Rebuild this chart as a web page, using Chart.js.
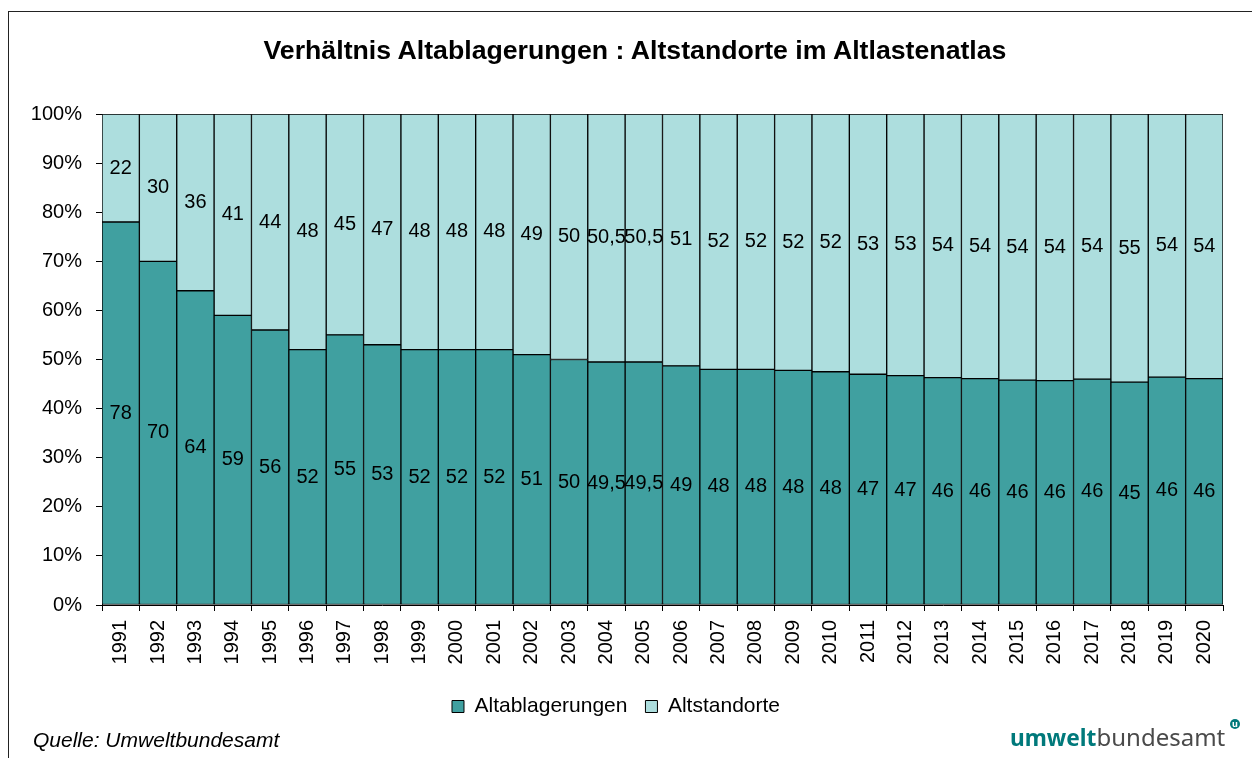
<!DOCTYPE html>
<html lang="de">
<head>
<meta charset="utf-8">
<title>Verhältnis Altablagerungen : Altstandorte im Altlastenatlas</title>
<script src="https://cdn.jsdelivr.net/npm/chart.js@4.4.1/dist/chart.umd.min.js"></script>
<style>
    html, body { margin: 0; padding: 0; background: #fff; }
    #wrap { position: relative; width: 1252px; height: 758px; overflow: hidden; }
    #frame { position: absolute; left: 8px; top: 11px; width: 1400px; height: 900px;
             border-left: 1px solid #222; border-top: 1px solid #222; }
    #chart { position: absolute; left: 0; top: 0; }
    #title { position: absolute; left: 0; top: 35px; width: 1270px; text-align: center; line-height: 1;
             font: bold 26.7px Arial, "Liberation Sans", sans-serif; color: #000; white-space: nowrap; }
    #source { position: absolute; left: 33px; top: 728px; line-height: 1;
              font: italic 21px Arial, "Liberation Sans", sans-serif; color: #000; }
    #logo { position: absolute; left: 1010px; top: 725px; line-height: 1;
            font-family: "Noto Sans", sans-serif; font-size: 24px; color: #4a4a4a; white-space: nowrap; }
    #logo b { color: #00797b; font-weight: 700; font-size: 22.7px; }
    #logo .badge { position: absolute; left: 220px; top: -6px; width: 10px; height: 10px; border-radius: 50%;
                   background: #00797b; color: #fff; font-size: 9px; line-height: 9px; text-align: center;
                   font-weight: 700; }
</style>
</head>
<body>
<div id="wrap">
    <div id="frame"></div>
    <canvas id="chart" width="1252" height="758"></canvas>
    <div id="title">Verhältnis Altablagerungen : Altstandorte im Altlastenatlas</div>
    <div id="source">Quelle: Umweltbundesamt</div>
    <div id="logo"><b>umwelt</b>bundesamt<span class="badge">u</span></div>
</div>
<script>
    const years = ["1991", "1992", "1993", "1994", "1995", "1996", "1997", "1998", "1999", "2000",
        "2001", "2002", "2003", "2004", "2005", "2006", "2007", "2008", "2009", "2010",
        "2011", "2012", "2013", "2014", "2015", "2016", "2017", "2018", "2019", "2020"];

    // bar heights in percent
    const altablagerungen = [78, 70, 64, 59, 56, 52, 55, 53, 52, 52,
        52, 51, 50, 49.5, 49.5, 48.7, 48, 48, 47.8, 47.5,
        47, 46.7, 46.3, 46.1, 45.8, 45.7, 46, 45.4, 46.4, 46.1];
    const altstandorte = [22, 30, 36, 41, 44, 48, 45, 47, 48, 48,
        48, 49, 50, 50.5, 50.5, 51.3, 52, 52, 52.2, 52.5,
        53, 53.3, 53.7, 53.9, 54.2, 54.3, 54, 54.6, 53.6, 53.9];

    // printed labels inside the bars
    const labelsAltablagerungen = ["78", "70", "64", "59", "56", "52", "55", "53", "52", "52",
        "52", "51", "50", "49,5", "49,5", "49", "48", "48", "48", "48",
        "47", "47", "46", "46", "46", "46", "46", "45", "46", "46"];
    const labelsAltstandorte = ["22", "30", "36", "41", "44", "48", "45", "47", "48", "48",
        "48", "49", "50", "50,5", "50,5", "51", "52", "52", "52", "52",
        "53", "53", "54", "54", "54", "54", "54", "55", "54", "54"];

    const yTicks = [0, 10, 20, 30, 40, 50, 60, 70, 80, 90, 100];

    const FONT = 'Arial, "Liberation Sans", sans-serif';
    Chart.defaults.font.family = FONT;
    Chart.defaults.color = "#000";

    const segmentLabels = {
        id: "segmentLabels",
        afterDatasetsDraw(chart) {
            const ctx = chart.ctx;
            const texts = [labelsAltablagerungen, labelsAltstandorte];
            ctx.save();
            ctx.font = "20px " + FONT;
            ctx.fillStyle = "#000";
            ctx.textAlign = "center";
            ctx.textBaseline = "middle";
            chart.data.datasets.forEach((ds, i) => {
                const meta = chart.getDatasetMeta(i);
                meta.data.forEach((bar, j) => {
                    ctx.fillText(texts[i][j], bar.x, (bar.y + bar.base) / 2);
                });
            });
            ctx.restore();
        }
    };

    const ctx = document.getElementById("chart").getContext("2d");
    new Chart(ctx, {
        type: "bar",
        data: {
            labels: years,
            datasets: [{
                label: "Altablagerungen",
                data: altablagerungen,
                backgroundColor: "#40a0a0",
                borderColor: "#000",
                borderWidth: 1,
                borderSkipped: false
            }, {
                label: "Altstandorte",
                data: altstandorte,
                backgroundColor: "#addede",
                borderColor: "#000",
                borderWidth: 1,
                borderSkipped: false
            }]
        },
        options: {
            responsive: false,
            animation: false,
            categoryPercentage: 1,
            barPercentage: 1,
            layout: {padding: {left: 9, right: 29, top: 114, bottom: 31}},
            scales: {
                x: {
                    stacked: true,
                    grid: {display: true, drawOnChartArea: false, drawTicks: true, tickLength: 6, color: "#000", offset: true},
                    border: {display: true, color: "#000", width: 1},
                    ticks: {color: "#000", font: {size: 20}, maxRotation: 90, minRotation: 90, autoSkip: false, padding: 9},
                    afterFit: function (scale) { scale.height = 73; }
                },
                y: {
                    stacked: true,
                    min: 0,
                    max: 100,
                    afterBuildTicks: function (scale) { scale.ticks = yTicks.map(v => ({value: v})); },
                    ticks: {color: "#000", font: {size: 20}, padding: 14, callback: v => v + "%"},
                    grid: {display: true, drawOnChartArea: false, drawTicks: true, tickLength: 6, color: "#000"},
                    border: {display: true, color: "#000", width: 1},
                    afterFit: function (scale) { scale.width = 93; }
                }
            },
            plugins: {
                title: {display: false},
                legend: {
                    position: "bottom",
                    labels: {color: "#000", font: {size: 21}, boxWidth: 12, boxHeight: 12, padding: 18}
                },
                tooltip: {enabled: false}
            }
        },
        plugins: [segmentLabels]
    });
</script>
</body>
</html>
